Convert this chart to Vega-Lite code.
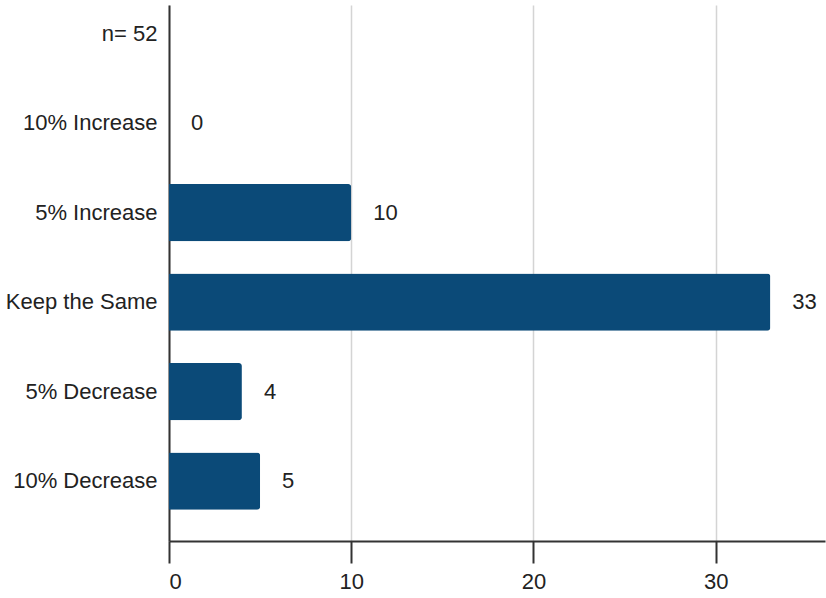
{
  "$schema": "https://vega.github.io/schema/vega-lite/v6.json",
  "autosize": {"type": "none"},
  "padding": {"left": 169, "top": 5, "right": 1, "bottom": 57},
  "width": 656,
  "height": 536,
  "background": "white",
  "config": {
    "view": {"stroke": null},
    "font": "Liberation Sans",
    "axis": {"labelFont": "Liberation Sans", "labelFontSize": 22, "labelColor": "#222222"}
  },
  "data": {
    "values": [
      {"category": "n= 52", "count": null},
      {"category": "10% Increase", "count": 0},
      {"category": "5% Increase", "count": 10},
      {"category": "Keep the Same", "count": 33},
      {"category": "5% Decrease", "count": 4},
      {"category": "10% Decrease", "count": 5}
    ]
  },
  "encoding": {
    "y": {
      "field": "category",
      "type": "nominal",
      "scale": {
        "domain": ["n= 52", "10% Increase", "5% Increase", "Keep the Same", "5% Decrease", "10% Decrease"],
        "paddingInner": 0.362,
        "paddingOuter": 0.175,
        "align": 0
      },
      "axis": {
        "title": null,
        "ticks": false,
        "labelPadding": 12,
        "domainColor": "#333333",
        "domainWidth": 2,
        "grid": false
      }
    },
    "x": {
      "field": "count",
      "type": "quantitative",
      "scale": {"domain": [0, 36], "nice": false},
      "axis": {
        "title": null,
        "values": [0, 10, 20, 30],
        "domainColor": "#333333",
        "domainWidth": 2,
        "tickColor": "#333333",
        "tickWidth": 2,
        "tickSize": 22,
        "labelPadding": 8,
        "grid": true,
        "gridColor": "#d4d4d4",
        "gridWidth": 1.5
      }
    }
  },
  "layer": [
    {
      "mark": {"type": "bar", "color": "#0b4a78", "cornerRadiusEnd": 3}
    },
    {
      "transform": [{"filter": "datum.count != null"}],
      "mark": {"type": "text", "align": "left", "baseline": "middle", "dx": 22, "fontSize": 22, "color": "#222222", "font": "Liberation Sans"},
      "encoding": {"text": {"field": "count", "type": "quantitative"}}
    }
  ]
}
